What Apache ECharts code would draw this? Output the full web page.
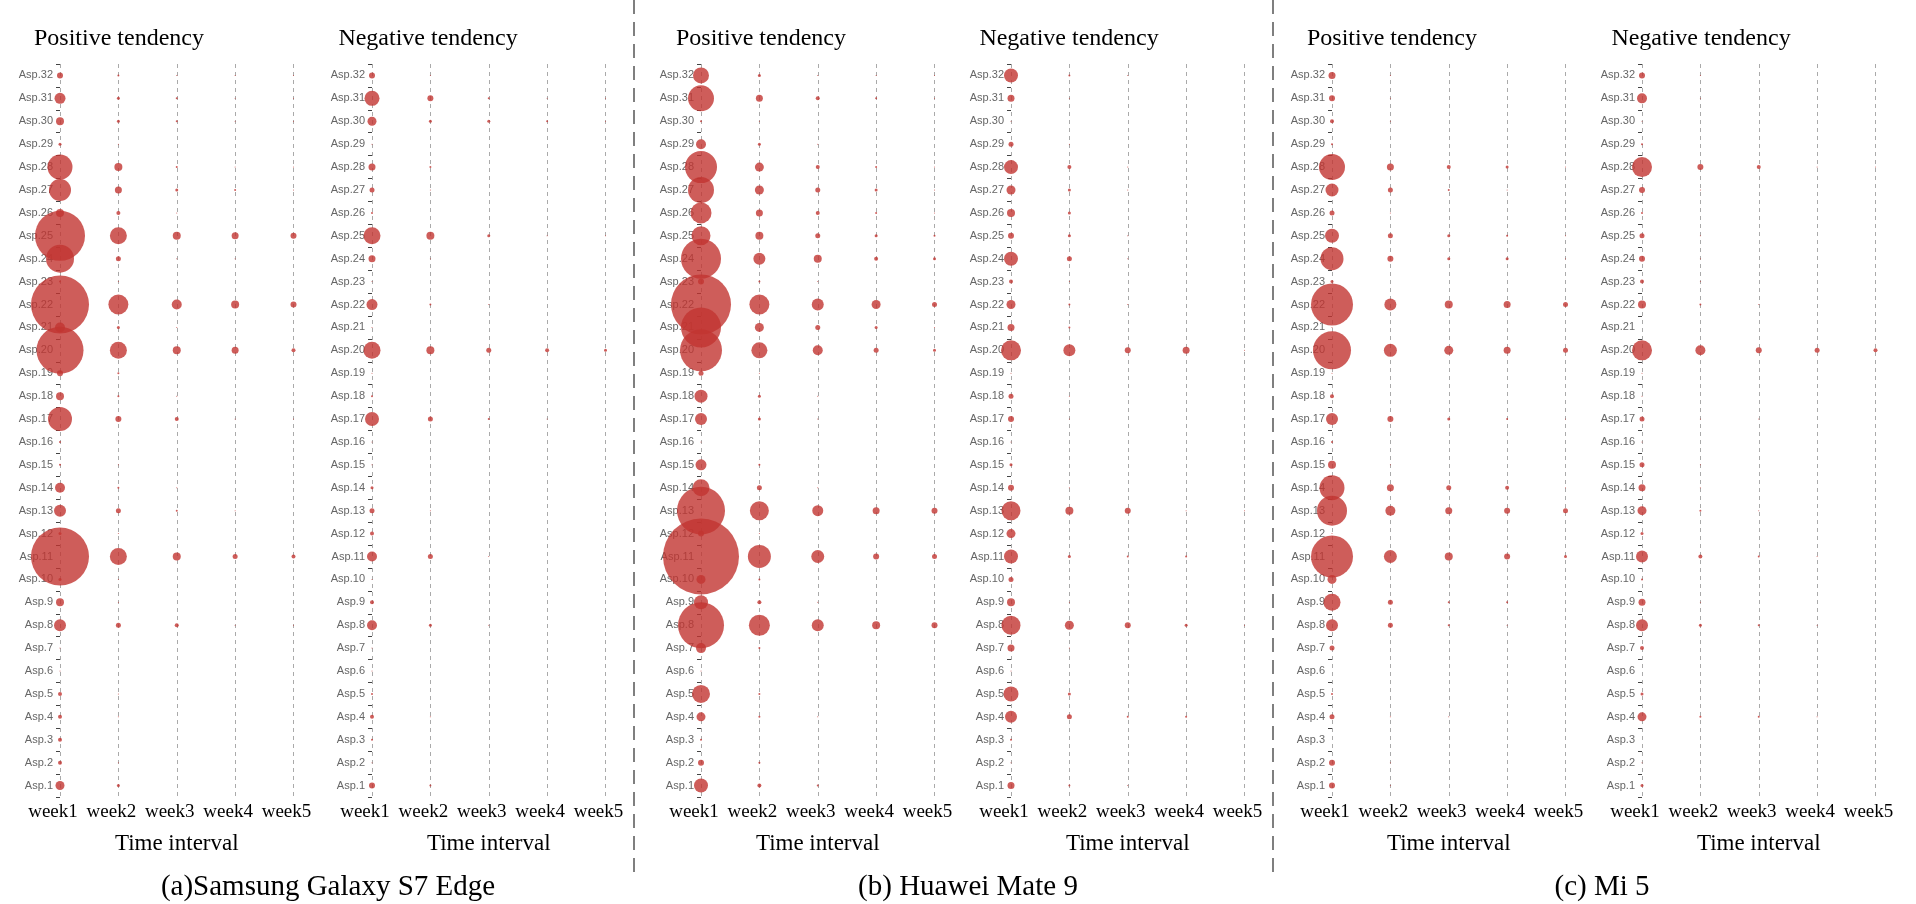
<!DOCTYPE html>
<html>
<head>
<meta charset="utf-8">
<script src="https://cdn.jsdelivr.net/npm/echarts@6/dist/echarts.min.js"></script>
<style>
html,body{margin:0;padding:0;background:#fff;}
#chart{width:1916px;height:904px;}
</style>
</head>
<body>
<div id="chart"></div>
<script>
// ---- categories ----
const weeks = ['week1', 'week2', 'week3', 'week4', 'week5'];
const aspects = []; // Asp.1 (bottom) ... Asp.32 (top)
for (let i = 1; i <= 32; i++) aspects.push('Asp.' + i);

// ---- bubble values, rows listed from Asp.32 (top) down to Asp.1, columns week1..week5 ----
const samsungPositive = [
  [6,2,1,1,1],[11,3,2,1,1],[8,3,2,1,1],[3,1,0,0,0],[25,8,2,1,1],[22,7,3,2,1],[8,4,1,0,0],[50,17,8,7,6],
  [28,5,1,1,0],[2,1,0,0,0],[58,20,10,8,6],[10,3,1,0,0],[47,17,8,7,4],[6,2,0,0,0],[8,2,1,0,0],[24,6,4,1,1],
  [2,0,0,0,0],[2,1,0,0,0],[10,2,1,0,0],[12,5,2,1,0],[3,1,0,0,0],[58,17,8,5,4],[3,1,0,0,0],[8,1,0,0,0],
  [12,5,4,1,1],[1,0,0,0,0],[1,0,0,0,0],[4,1,0,0,0],[4,1,0,0,0],[4,0,0,0,0],[4,1,0,0,0],[9,3,0,0,0]
];
const samsungNegative = [
  [6,1,0,0,0],[15,6,2,1,1],[9,3,3,2,1],[1,0,0,0,0],[7,2,0,0,0],[5,1,0,0,0],[2,0,0,0,0],[17,8,3,1,1],
  [7,1,0,0,0],[1,0,0,0,0],[11,2,1,0,0],[1,0,0,0,0],[17,8,5,4,3],[1,0,0,0,0],[2,0,0,0,0],[14,5,2,1,0],
  [1,0,0,0,0],[1,0,0,0,0],[3,0,0,0,0],[5,1,0,0,0],[4,0,0,0,0],[10,5,1,0,0],[1,0,0,0,0],[4,0,0,0,0],
  [10,3,1,0,0],[1,0,0,0,0],[1,0,0,0,0],[2,0,0,0,0],[4,1,0,0,0],[2,0,0,0,0],[1,0,0,0,0],[6,2,0,0,0]
];
const huaweiPositive = [
  [16,3,1,1,1],[26,7,4,2,1],[2,1,0,0,0],[10,3,1,0,0],[32,9,4,2,1],[26,9,5,3,1],[21,7,4,2,1],[19,8,5,3,2],
  [40,12,8,4,3],[6,2,1,0,0],[60,20,12,9,5],[40,9,5,3,1],[42,16,10,5,3],[5,1,0,0,0],[13,3,1,0,0],[12,3,1,0,0],
  [1,0,0,0,0],[11,2,0,0,0],[17,5,1,0,0],[48,19,11,7,6],[6,1,0,0,0],[76,23,13,6,5],[9,2,0,0,0],[14,4,1,0,0],
  [46,21,12,8,6],[10,2,0,0,0],[1,0,0,0,0],[18,2,0,0,0],[9,2,1,0,0],[2,0,0,0,0],[6,2,0,0,0],[14,4,2,0,0]
];
const huaweiNegative = [
  [14,2,1,0,0],[7,1,0,0,0],[1,0,0,0,0],[5,1,0,0,0],[14,4,1,0,0],[9,3,1,0,0],[8,3,0,0,0],[6,3,1,0,0],
  [14,5,1,0,0],[4,1,0,0,0],[9,2,1,0,0],[7,2,0,0,0],[20,12,6,7,1],[1,0,0,0,0],[5,1,0,0,0],[6,1,0,0,0],
  [1,0,0,0,0],[3,0,0,0,0],[6,1,0,0,0],[19,8,6,1,1],[9,0,0,0,0],[14,3,2,2,0],[5,0,0,0,0],[8,1,0,0,0],
  [19,9,6,3,1],[7,1,0,0,0],[1,0,0,0,0],[15,3,0,0,0],[12,5,2,2,0],[2,0,0,0,0],[1,0,0,0,0],[7,2,1,0,0]
];
const miPositive = [
  [7,1,0,0,0],[6,1,0,0,0],[4,1,0,0,0],[2,0,0,0,0],[26,7,4,3,1],[13,5,2,1,0],[5,1,0,0,0],[14,5,3,2,1],
  [23,6,3,3,1],[3,0,0,0,0],[42,12,8,7,5],[1,0,0,0,0],[38,13,9,7,5],[1,0,0,0,0],[4,0,0,0,0],[12,6,3,2,1],
  [2,0,0,0,0],[8,1,0,0,0],[25,7,5,4,1],[30,10,7,6,5],[1,0,0,0,0],[42,13,8,6,3],[9,0,0,0,0],[17,5,2,2,0],
  [12,5,2,1,0],[5,0,0,0,0],[0,0,0,0,0],[2,0,0,0,0],[5,1,1,0,0],[0,0,0,0,0],[6,1,0,0,0],[6,1,0,0,0]
];
const miNegative = [
  [6,1,0,0,0],[10,1,0,0,0],[1,0,0,0,0],[2,0,0,0,0],[20,6,4,1,1],[6,1,0,0,0],[2,0,0,0,0],[5,1,0,0,0],
  [6,1,0,0,0],[4,1,0,0,0],[8,2,1,0,0],[0,0,0,0,0],[20,10,6,5,4],[1,0,0,0,0],[1,0,0,0,0],[5,1,1,0,0],
  [1,0,0,0,0],[5,1,0,0,0],[7,1,0,0,0],[9,2,1,0,0],[3,0,0,0,0],[12,4,2,1,0],[2,0,0,0,0],[7,1,0,0,0],
  [12,3,2,1,0],[4,0,0,0,0],[0,0,0,0,0],[3,0,0,0,0],[9,2,2,1,0],[0,0,0,0,0],[1,0,0,0,0],[3,0,0,0,0]
];

// ---- texts ----
const panelTitles = ['Positive tendency', 'Negative tendency', 'Positive tendency', 'Negative tendency', 'Positive tendency', 'Negative tendency'];
const captions = ['(a)Samsung Galaxy S7 Edge', '(b) Huawei Mate 9', '(c) Mi 5'];
const xAxisName = 'Time interval';

const panels = [samsungPositive, samsungNegative, huaweiPositive, huaweiNegative, miPositive, miNegative];

// ---- layout ----
const gridLefts = [60, 372, 701, 1011, 1332, 1642];
const gridWidth = 233.5;
const gridTop = 64;
const gridHeight = 733;
const titleX = [119, 428, 761, 1069, 1392, 1701];
const captionX = [328, 968, 1602];
const dividerX = [634, 1273];

const serif = '"Liberation Serif", "Times New Roman", serif';

const grid = [], xAxis = [], yAxis = [], series = [], graphic = [];
panels.forEach((rows, p) => {
  grid.push({ left: gridLefts[p], top: gridTop, width: gridWidth, height: gridHeight });
  xAxis.push({
    type: 'category', gridIndex: p, data: weeks, boundaryGap: false,
    axisLine: { show: false }, axisTick: { show: false },
    axisLabel: { interval: 0, hideOverlap: false, fontFamily: serif, fontSize: 19, color: '#000', margin: 6, padding: [0, 14, 0, 0] },
    splitLine: { show: true, interval: 0, lineStyle: { type: [4, 4], color: '#aaa', width: 1 } },
    name: xAxisName, nameLocation: 'middle', nameGap: 35,
    nameTextStyle: { fontFamily: serif, fontSize: 23, color: '#000' }
  });
  yAxis.push({
    type: 'category', gridIndex: p, data: aspects, boundaryGap: true,
    axisLine: { show: false },
    axisTick: { show: true, interval: 0, length: 4, lineStyle: { color: '#444', width: 1 } },
    axisLabel: { interval: 0, fontFamily: '"Liberation Sans", Arial, sans-serif', fontSize: 11, color: '#666', margin: 7 },
    splitLine: { show: false }
  });
  const data = [];
  rows.forEach((row, r) => {
    const aspIdx = 31 - r;
    row.forEach((v, w) => { if (v > 0) data.push([w, aspIdx, v]); });
  });
  series.push({
    type: 'scatter', xAxisIndex: p, yAxisIndex: p, data: data, clip: false,
    symbolSize: d => d[2],
    itemStyle: { color: '#c23531', opacity: 0.8 },
    emphasis: { disabled: true }
  });
  graphic.push({
    type: 'text', x: titleX[p], y: 39,
    style: { text: panelTitles[p], font: '24px ' + serif, fill: '#000', textAlign: 'center', textVerticalAlign: 'middle', verticalAlign: 'middle' }
  });
});
captions.forEach((c, i) => {
  graphic.push({
    type: 'text', x: captionX[i], y: 887,
    style: { text: c, font: '29px ' + serif, fill: '#000', textAlign: 'center', textVerticalAlign: 'middle', verticalAlign: 'middle' }
  });
});
dividerX.forEach(x => {
  graphic.push({
    type: 'line', shape: { x1: x, y1: 0, x2: x, y2: 880 },
    style: { stroke: '#555', lineWidth: 1.5, lineDash: [14, 8] }
  });
});

const chart = echarts.init(document.getElementById('chart'), null, { renderer: 'canvas' });
chart.setOption({
  backgroundColor: '#fff',
  animation: false,
  grid, xAxis, yAxis, series, graphic
});
</script>
</body>
</html>
